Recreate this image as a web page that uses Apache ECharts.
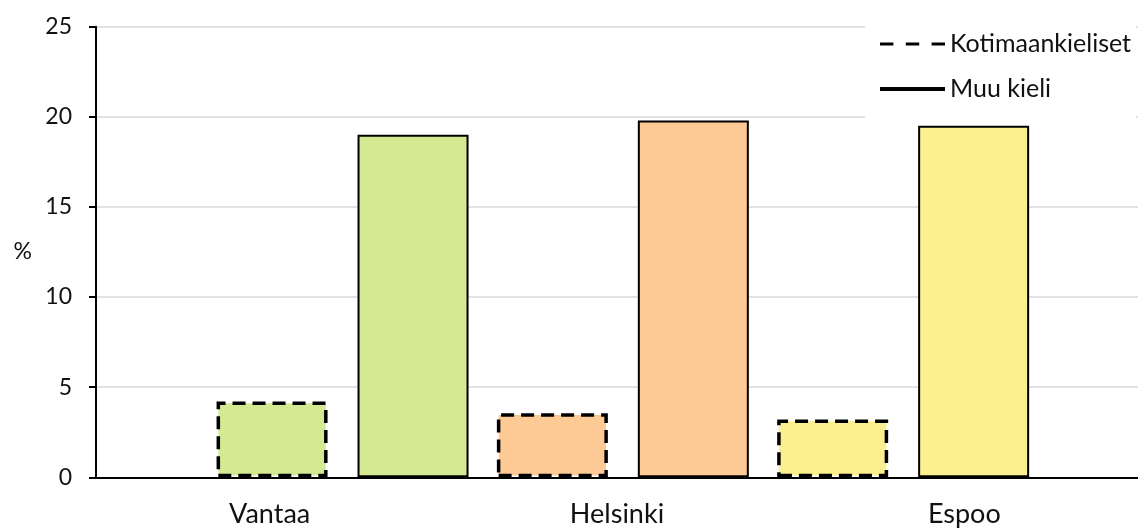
<!DOCTYPE html>
<html>
<head>
<meta charset="utf-8">
<script src="https://cdn.jsdelivr.net/npm/echarts@6/dist/echarts.min.js"></script>
<style>
  html, body { margin: 0; padding: 0; background: #ffffff; }
  #chart { width: 1138px; height: 531px; }
</style>
</head>
<body>
<div id="chart"></div>
<script>
// Share of residents (%) by home-language group in three cities
const categories = ['Vantaa', 'Helsinki', 'Espoo'];
const seriesNames = ['Kotimaankieliset', 'Muu kieli'];
const kotimaankieliset = [4.2, 3.55, 3.2];
const muuKieli = [19.0, 19.8, 19.5];
const cityColors = ['#d5e993', '#fdca96', '#fbef8f'];
const yMin = 0;
const yMax = 25;
const yStep = 5;

const FONT = 'Lato';
const TEXT = '#111111';

const chart = echarts.init(document.getElementById('chart'), null, { renderer: 'canvas' });

function cityBars(values) {
  return values.map((v, i) => ({ value: v, itemStyle: { color: cityColors[i] } }));
}

const option = {
  backgroundColor: '#ffffff',
  animation: false,
  grid: [
    // frame: axes, gridlines and city labels
    { left: 96, right: 0, top: 26.7, bottom: 53.7 },
    // bar layout area
    { left: 202.4, right: 94.7, top: 26.7, bottom: 53.7 }
  ],
  legend: {
    orient: 'vertical',
    left: 865,
    top: 17,
    padding: [14, 5, 20, 15],
    backgroundColor: '#ffffff',
    itemWidth: 65,
    itemHeight: 4,
    itemGap: 19,
    textStyle: { fontFamily: FONT, fontSize: 25, color: TEXT, lineHeight: 26 },
    data: [
      {
        name: seriesNames[0],
        icon: 'path://M0,0H13V3H0Z M25,0H38V3H25Z M50,0H63V3H50Z',
        itemStyle: { color: '#000000', borderWidth: 0 }
      },
      {
        name: seriesNames[1],
        icon: 'rect',
        itemStyle: { color: '#000000', borderWidth: 0 }
      }
    ]
  },
  xAxis: [
    {
      type: 'category',
      gridIndex: 0,
      data: categories,
      axisLine: { show: true, lineStyle: { color: '#000000', width: 2 } },
      axisTick: { show: false },
      axisLabel: { fontFamily: FONT, fontSize: 27, color: TEXT, margin: 23 },
      splitLine: { show: false }
    },
    {
      type: 'category',
      gridIndex: 1,
      data: categories,
      show: false
    }
  ],
  yAxis: [
    {
      type: 'value',
      gridIndex: 0,
      min: yMin,
      max: yMax,
      interval: yStep,
      name: '%',
      nameLocation: 'middle',
      nameRotate: 0,
      nameGap: 64,
      nameTextStyle: { fontFamily: FONT, fontSize: 23, color: TEXT, padding: [0, 0, 24, 0] },
      axisLine: { show: true, lineStyle: { color: '#000000', width: 2 } },
      axisTick: { show: true, length: 7, lineStyle: { color: '#000000', width: 2 } },
      axisLabel: { fontFamily: FONT, fontSize: 23, color: TEXT, margin: 24 },
      splitLine: { show: true, lineStyle: { color: '#d9d9d9', width: 1.5 } }
    },
    {
      type: 'value',
      gridIndex: 1,
      min: yMin,
      max: yMax,
      interval: yStep,
      show: false,
      splitLine: { show: false }
    }
  ],
  series: [
    {
      name: seriesNames[0],
      type: 'bar',
      xAxisIndex: 1,
      yAxisIndex: 1,
      barWidth: 111,
      barGap: '27%',
      data: cityBars(kotimaankieliset),
      itemStyle: { borderColor: '#000000', borderWidth: 3.5, borderType: [13, 7] }
    },
    {
      name: seriesNames[1],
      type: 'bar',
      xAxisIndex: 1,
      yAxisIndex: 1,
      barWidth: 111,
      barGap: '27%',
      data: cityBars(muuKieli),
      itemStyle: { borderColor: '#000000', borderWidth: 2 }
    }
  ]
};

chart.setOption(option);
</script>
</body>
</html>
